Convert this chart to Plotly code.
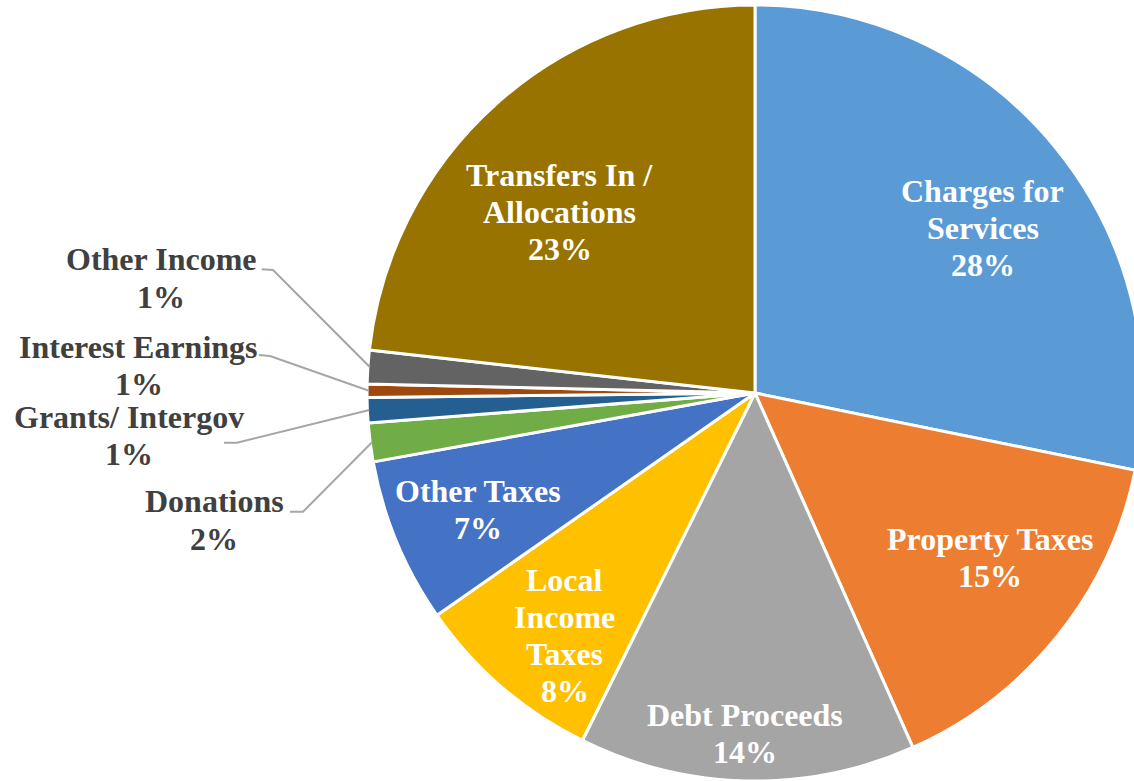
import math
import plotly.graph_objects as go

# ---------------- data ----------------
categories = [
    "Charges for Services", "Property Taxes", "Debt Proceeds", "Local Income Taxes",
    "Other Taxes", "Donations", "Grants/ Intergov", "Interest Earnings",
    "Other Income", "Transfers In / Allocations",
]
values = [28.19, 15.14, 14.01, 7.95, 6.87, 1.61, 1.05, 0.55, 1.40, 23.23]
label_text = [
    "Charges for<br>Services", "Property Taxes", "Debt Proceeds", "Local<br>Income<br>Taxes",
    "Other Taxes", "Donations", "Grants/ Intergov", "Interest Earnings",
    "Other Income", "Transfers In /<br>Allocations",
]
colors = ["#5B9BD5", "#ED7D31", "#A5A5A5", "#FFC000", "#4472C4",
          "#70AD47", "#255E91", "#9E480E", "#636363", "#997300"]

# ---------------- layout geometry (pixels) ----------------
# figure is slightly wider than the 1134px window so the pie runs off the right edge
W, H = 1146, 781
CX, CY, R = 755.0, 393.0, 388.0
FONT = "Liberation Serif"
FS = 32
LS = 37  # line spacing in px

# inside labels: (slice index, radius fraction, angular nudge in degrees)
inside_place = [(0, 0.725, 3.4), (1, 0.739, -3.8), (2, 0.877, 0.5),
                (3, 0.795, -2.7), (4, 0.775, -0.3), (9, 0.686, -5.3)]
# outside labels: (slice index, label centre px, leader start px, elbow px)
outside_place = [
    (5, (214, 520), (290, 511.7), (303, 511.7)),
    (6, (128.5, 435), (224, 442.7), (237, 442.7)),
    (7, (138.5, 365), (259, 355), (270, 356)),
    (8, (161, 278), (261.7, 269.3), (273, 270)),
]


def px(x):
    return x / W


def py(y):
    return 1 - y / H


total = sum(values)
pct = [round(v / total * 100) for v in values]
cum = []
acc = 0.0
for v in values:
    cum.append((acc, acc + v))
    acc += v


def mid_angle(i):
    a0, a1 = cum[i]
    return (a0 + a1) / 2 / total * 360.0


def polar(theta_deg, r):
    t = math.radians(theta_deg)
    return CX + r * math.sin(t), CY - r * math.cos(t)


fig = go.Figure(go.Pie(
    labels=categories,
    values=values,
    sort=False,
    direction="clockwise",
    rotation=0,
    textinfo="none",
    hoverinfo="label+percent",
    marker=dict(colors=colors, line=dict(color="white", width=3)),
    domain=dict(x=[px(CX - R), px(CX + R)], y=[py(CY + R), py(CY - R)]),
    showlegend=False,
))

annotations = []


def add_label(i, x, y, color):
    lines = label_text[i].split("<br>") + [f"{pct[i]}%"]
    n = len(lines)
    for k, line in enumerate(lines):
        yy = y + (k - (n - 1) / 2) * LS
        annotations.append(dict(
            x=px(x), y=py(yy), xref="paper", yref="paper",
            text=line, showarrow=False,
            xanchor="center", yanchor="middle", align="center",
            font=dict(family=FONT, size=FS, color=color, weight="bold"),
        ))


for i, rf, nudge in inside_place:
    x, y = polar(mid_angle(i) + nudge, rf * R)
    add_label(i, x, y, "white")

shapes = []
for i, (lx, ly), (sx, sy), (ex, ey) in outside_place:
    add_label(i, lx, ly, "#404040")
    tx, ty = polar(mid_angle(i), R * 0.995)
    path = (f"M {px(sx)},{py(sy)} L {px(ex)},{py(ey)} L {px(tx)},{py(ty)}")
    shapes.append(dict(type="path", xref="paper", yref="paper", path=path,
                       line=dict(color="#A6A6A6", width=2)))

fig.update_layout(
    width=W, height=H,
    margin=dict(l=0, r=0, t=0, b=0),
    paper_bgcolor="white", plot_bgcolor="white",
    annotations=annotations, shapes=shapes,
)

fig.write_html(
    "out.html",
    config={"displayModeBar": False},
    post_script="document.body.style.margin='0';document.body.style.overflow='hidden';",
)
